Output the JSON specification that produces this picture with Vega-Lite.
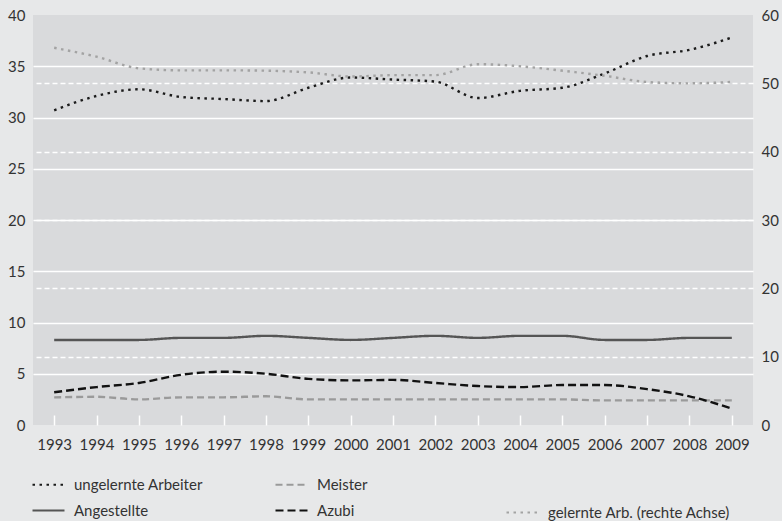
{
  "$schema": "https://vega.github.io/schema/vega-lite/v6.json",
  "width": 720,
  "height": 410,
  "autosize": {"type": "none"},
  "padding": {"left": 33, "top": 15, "right": 29, "bottom": 96},
  "background": "#e7e8e9",
  "config": {
    "view": {"fill": "#d9dadc", "stroke": null},
    "font": "Lato",
    "axis": {"labelFont": "Lato", "labelFontSize": 15, "labelColor": "#333333", "domain": false, "ticks": false, "title": null},
    "legend": {"labelFont": "Lato", "labelFontSize": 15, "labelColor": "#333333", "padding": 0, "labelLimit": 400}
  },
  "datasets": {
    "left": [
      {"year": "1993", "series": "ungelernte Arbeiter", "value": 30.7},
      {"year": "1994", "series": "ungelernte Arbeiter", "value": 32.1},
      {"year": "1995", "series": "ungelernte Arbeiter", "value": 32.75},
      {"year": "1996", "series": "ungelernte Arbeiter", "value": 32.0},
      {"year": "1997", "series": "ungelernte Arbeiter", "value": 31.8},
      {"year": "1998", "series": "ungelernte Arbeiter", "value": 31.6},
      {"year": "1999", "series": "ungelernte Arbeiter", "value": 32.9},
      {"year": "2000", "series": "ungelernte Arbeiter", "value": 33.9},
      {"year": "2001", "series": "ungelernte Arbeiter", "value": 33.7},
      {"year": "2002", "series": "ungelernte Arbeiter", "value": 33.5},
      {"year": "2003", "series": "ungelernte Arbeiter", "value": 31.9},
      {"year": "2004", "series": "ungelernte Arbeiter", "value": 32.6},
      {"year": "2005", "series": "ungelernte Arbeiter", "value": 32.9},
      {"year": "2006", "series": "ungelernte Arbeiter", "value": 34.3},
      {"year": "2007", "series": "ungelernte Arbeiter", "value": 36.0},
      {"year": "2008", "series": "ungelernte Arbeiter", "value": 36.6},
      {"year": "2009", "series": "ungelernte Arbeiter", "value": 37.8},
      {"year": "1993", "series": "Meister", "value": 2.7},
      {"year": "1994", "series": "Meister", "value": 2.75},
      {"year": "1995", "series": "Meister", "value": 2.5},
      {"year": "1996", "series": "Meister", "value": 2.7},
      {"year": "1997", "series": "Meister", "value": 2.7},
      {"year": "1998", "series": "Meister", "value": 2.8},
      {"year": "1999", "series": "Meister", "value": 2.5},
      {"year": "2000", "series": "Meister", "value": 2.5},
      {"year": "2001", "series": "Meister", "value": 2.5},
      {"year": "2002", "series": "Meister", "value": 2.5},
      {"year": "2003", "series": "Meister", "value": 2.5},
      {"year": "2004", "series": "Meister", "value": 2.5},
      {"year": "2005", "series": "Meister", "value": 2.5},
      {"year": "2006", "series": "Meister", "value": 2.4},
      {"year": "2007", "series": "Meister", "value": 2.4},
      {"year": "2008", "series": "Meister", "value": 2.4},
      {"year": "2009", "series": "Meister", "value": 2.4},
      {"year": "1993", "series": "Angestellte", "value": 8.3},
      {"year": "1994", "series": "Angestellte", "value": 8.3},
      {"year": "1995", "series": "Angestellte", "value": 8.3},
      {"year": "1996", "series": "Angestellte", "value": 8.5},
      {"year": "1997", "series": "Angestellte", "value": 8.5},
      {"year": "1998", "series": "Angestellte", "value": 8.7},
      {"year": "1999", "series": "Angestellte", "value": 8.5},
      {"year": "2000", "series": "Angestellte", "value": 8.3},
      {"year": "2001", "series": "Angestellte", "value": 8.5},
      {"year": "2002", "series": "Angestellte", "value": 8.7},
      {"year": "2003", "series": "Angestellte", "value": 8.5},
      {"year": "2004", "series": "Angestellte", "value": 8.7},
      {"year": "2005", "series": "Angestellte", "value": 8.7},
      {"year": "2006", "series": "Angestellte", "value": 8.3},
      {"year": "2007", "series": "Angestellte", "value": 8.3},
      {"year": "2008", "series": "Angestellte", "value": 8.5},
      {"year": "2009", "series": "Angestellte", "value": 8.5},
      {"year": "1993", "series": "Azubi", "value": 3.2},
      {"year": "1994", "series": "Azubi", "value": 3.7},
      {"year": "1995", "series": "Azubi", "value": 4.1},
      {"year": "1996", "series": "Azubi", "value": 4.9},
      {"year": "1997", "series": "Azubi", "value": 5.2},
      {"year": "1998", "series": "Azubi", "value": 5.0},
      {"year": "1999", "series": "Azubi", "value": 4.5},
      {"year": "2000", "series": "Azubi", "value": 4.35},
      {"year": "2001", "series": "Azubi", "value": 4.4},
      {"year": "2002", "series": "Azubi", "value": 4.1},
      {"year": "2003", "series": "Azubi", "value": 3.8},
      {"year": "2004", "series": "Azubi", "value": 3.7},
      {"year": "2005", "series": "Azubi", "value": 3.9},
      {"year": "2006", "series": "Azubi", "value": 3.9},
      {"year": "2007", "series": "Azubi", "value": 3.5},
      {"year": "2008", "series": "Azubi", "value": 2.8},
      {"year": "2009", "series": "Azubi", "value": 1.6}
    ],
    "right": [
      {"year": "1993", "series": "gelernte Arb. (rechte Achse)", "value": 55.2},
      {"year": "1994", "series": "gelernte Arb. (rechte Achse)", "value": 53.9},
      {"year": "1995", "series": "gelernte Arb. (rechte Achse)", "value": 52.2},
      {"year": "1996", "series": "gelernte Arb. (rechte Achse)", "value": 51.9},
      {"year": "1997", "series": "gelernte Arb. (rechte Achse)", "value": 51.9},
      {"year": "1998", "series": "gelernte Arb. (rechte Achse)", "value": 51.85},
      {"year": "1999", "series": "gelernte Arb. (rechte Achse)", "value": 51.6},
      {"year": "2000", "series": "gelernte Arb. (rechte Achse)", "value": 51.0},
      {"year": "2001", "series": "gelernte Arb. (rechte Achse)", "value": 51.2},
      {"year": "2002", "series": "gelernte Arb. (rechte Achse)", "value": 51.2},
      {"year": "2003", "series": "gelernte Arb. (rechte Achse)", "value": 52.8},
      {"year": "2004", "series": "gelernte Arb. (rechte Achse)", "value": 52.5},
      {"year": "2005", "series": "gelernte Arb. (rechte Achse)", "value": 51.85},
      {"year": "2006", "series": "gelernte Arb. (rechte Achse)", "value": 51.1},
      {"year": "2007", "series": "gelernte Arb. (rechte Achse)", "value": 50.2},
      {"year": "2008", "series": "gelernte Arb. (rechte Achse)", "value": 50.0},
      {"year": "2009", "series": "gelernte Arb. (rechte Achse)", "value": 50.2}
    ]
  },
  "layer": [
    {
      "data": {"name": "left"},
      "mark": {"type": "line", "interpolate": "monotone", "strokeWidth": 2.4},
      "encoding": {
        "x": {
          "field": "year", "type": "ordinal",
          "scale": {"type": "point", "padding": 0.5},
          "axis": {"labelAngle": 0, "ticks": true, "tickSize": -10, "tickColor": "#ffffff", "tickWidth": 1.5, "labelPadding": 22, "title": null}
        },
        "y": {
          "field": "value", "type": "quantitative",
          "scale": {"domain": [0, 40], "nice": false},
          "axis": {
            "orient": "left", "values": [0, 5, 10, 15, 20, 25, 30, 35, 40],
            "grid": true, "gridColor": "#ffffff", "gridWidth": 1.5,
            "gridOpacity": {"condition": {"test": "datum.value == 0 || datum.value == 40", "value": 0}, "value": 1},
            "labelPadding": 8, "title": null
          }
        },
        "color": {
          "field": "series", "type": "nominal",
          "scale": {"domain": ["ungelernte Arbeiter", "Angestellte", "Meister", "Azubi"], "range": ["#1a1a1a", "#555555", "#9a9a9a", "#111111"]},
          "legend": {"orient": "none", "legendX": -2, "legendY": 452, "columns": 2, "columnPadding": 68, "rowPadding": -6, "gridAlign": "each", "symbolType": "stroke", "symbolSize": 1024, "symbolStrokeWidth": 2.2, "labelOffset": 8, "title": null}
        },
        "strokeDash": {
          "field": "series", "type": "nominal",
          "scale": {"domain": ["ungelernte Arbeiter", "Angestellte", "Meister", "Azubi"], "range": [[2.5, 4.5], [1, 0], [7, 4], [8, 4]]},
          "legend": {"orient": "none", "legendX": -2, "legendY": 452, "columns": 2, "columnPadding": 68, "rowPadding": -6, "gridAlign": "each", "symbolType": "stroke", "symbolSize": 1024, "symbolStrokeWidth": 2.2, "labelOffset": 8, "title": null}
        }
      }
    },
    {
      "data": {"name": "right"},
      "mark": {"type": "line", "interpolate": "monotone", "strokeWidth": 2.4},
      "encoding": {
        "x": {
          "field": "year", "type": "ordinal",
          "scale": {"type": "point", "padding": 0.5},
          "axis": {"labelAngle": 0, "ticks": true, "tickSize": -10, "tickColor": "#ffffff", "tickWidth": 1.5, "labelPadding": 22, "title": null}
        },
        "y": {
          "field": "value", "type": "quantitative",
          "scale": {"domain": [0, 60], "nice": false},
          "axis": {
            "orient": "right", "values": [0, 10, 20, 30, 40, 50, 60],
            "grid": true, "gridColor": "#ffffff", "gridWidth": 1.5, "gridDash": [5, 3],
            "gridOpacity": {"condition": {"test": "datum.value == 0 || datum.value == 60", "value": 0}, "value": 1},
            "labelPadding": 8, "title": null
          }
        },
        "color": {
          "field": "series", "type": "nominal",
          "scale": {"domain": ["gelernte Arb. (rechte Achse)"], "range": ["#a3a3a3"]},
          "legend": {"orient": "none", "legendX": 472, "legendY": 480, "symbolType": "stroke", "symbolSize": 1024, "symbolStrokeWidth": 2.2, "labelOffset": 8, "title": null}
        },
        "strokeDash": {
          "field": "series", "type": "nominal",
          "scale": {"domain": ["gelernte Arb. (rechte Achse)"], "range": [[2.5, 4.5]]},
          "legend": {"orient": "none", "legendX": 472, "legendY": 480, "symbolType": "stroke", "symbolSize": 1024, "symbolStrokeWidth": 2.2, "labelOffset": 8, "title": null}
        }
      }
    }
  ],
  "resolve": {"scale": {"y": "independent", "color": "independent", "strokeDash": "independent"}}
}
